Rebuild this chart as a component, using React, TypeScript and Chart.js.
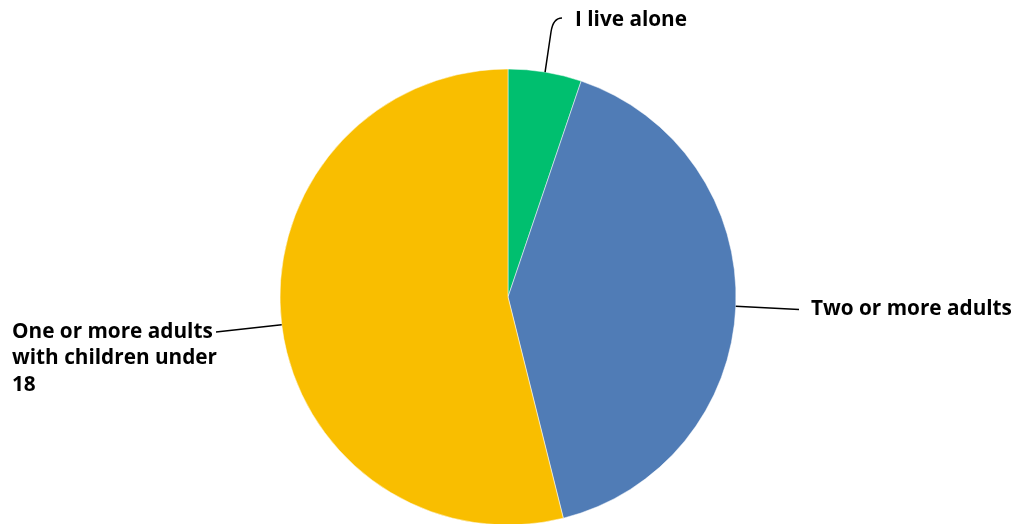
import React, { useEffect, useRef } from "react";
import { Chart, registerables } from "chart.js";

Chart.register(...registerables);

const categories = ["I live alone", "Two or more adults", "One or more adults with children under 18"];
const values = [5.2, 40.9, 53.9];
const colors = ["#00BF6F", "#507CB6", "#F9BE00"];

// label layout (positions only used for annotation drawing)
const labelLayout = [
  { lines: ["I live alone"], textX: 575, textY: 26, align: "left", via: [551, 32], ctrl: [553, 18], end: [562, 18] },
  { lines: ["Two or more adults"], textX: 811, textY: 315, align: "left", end: [799, 309.5] },
  { lines: ["One or more adults", "with children under", "18"], textX: 12, textY: 338, align: "left", end: [216, 332] },
];

const leaderPlugin = {
  id: "leaders",
  afterDatasetsDraw(chart: any) {
    const ctx = chart.ctx;
    const meta = chart.getDatasetMeta(0);
    ctx.save();
    ctx.strokeStyle = "#000";
    ctx.lineWidth = 1.5;
    ctx.fillStyle = "#000";
    ctx.font = "bold 20px 'Open Sans', sans-serif";
    const w = ctx.measureText("Two or more adults").width;
    const size = 20 * (201 / w);
    ctx.font = `bold ${size.toFixed(2)}px 'Open Sans', sans-serif`;
    ctx.textBaseline = "alphabetic";
    meta.data.forEach((arc: any, i: number) => {
      const p = arc.getProps(["x", "y", "startAngle", "endAngle", "outerRadius"], true);
      const mid = (p.startAngle + p.endAngle) / 2;
      const sx = p.x + Math.cos(mid) * p.outerRadius;
      const sy = p.y + Math.sin(mid) * p.outerRadius;
      const L: any = labelLayout[i];
      ctx.beginPath();
      ctx.moveTo(sx, sy);
      if (L.via) {
        ctx.lineTo(L.via[0], L.via[1]);
        ctx.quadraticCurveTo(L.ctrl[0], L.ctrl[1], L.end[0], L.end[1]);
      } else {
        ctx.lineTo(L.end[0], L.end[1]);
      }
      ctx.stroke();
      ctx.textAlign = L.align;
      L.lines.forEach((t: string, k: number) => {
        ctx.fillText(t, L.textX, L.textY + k * 26.3);
      });
    });
    ctx.restore();
  },
};

export default function App() {
  const ref = useRef<HTMLCanvasElement>(null);
  useEffect(() => {
    const chart = new Chart(ref.current!, {
      type: "pie",
      data: {
        labels: categories,
        datasets: [
          {
            data: values,
            backgroundColor: colors,
            borderColor: "#ffffff",
            borderWidth: 0.5,
          },
        ],
      },
      options: {
        responsive: false,
        animation: false,
        radius: 228,
        layout: { padding: { left: 2, right: 0, top: 70, bottom: 0 } },
        plugins: {
          legend: { display: false },
          tooltip: { enabled: false },
        },
      } as any,
      plugins: [leaderPlugin],
    });
    return () => chart.destroy();
  }, []);
  return (
    <div style={{ position: "fixed", left: 0, top: 0, width: 1014, height: 524, background: "#fff" }}>
      <canvas ref={ref} width={1014} height={524} />
    </div>
  );
}
